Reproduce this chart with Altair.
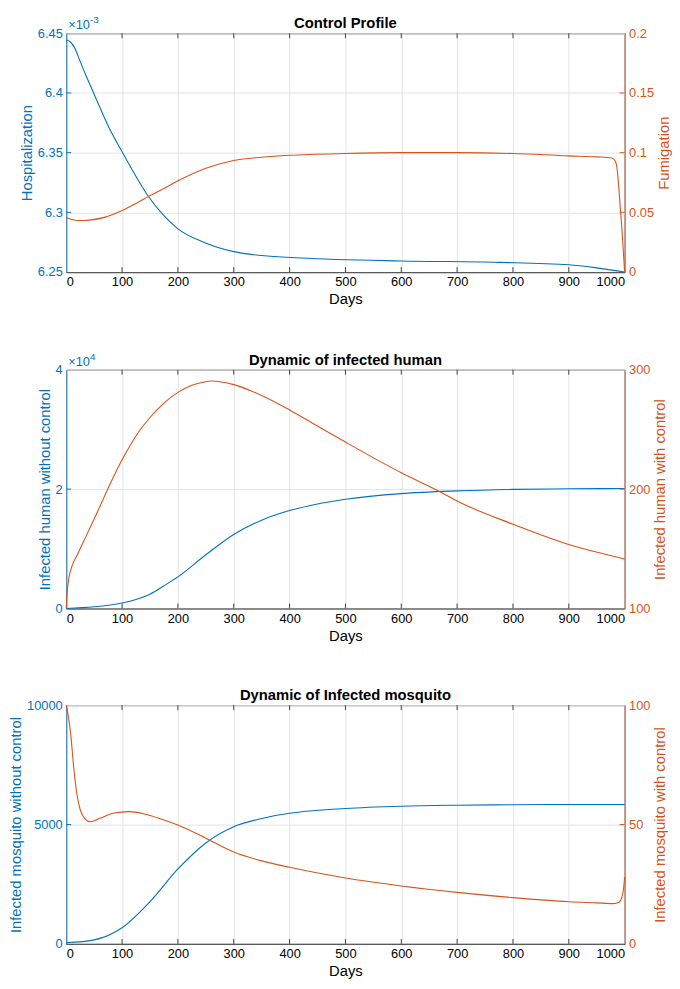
import altair as alt
import pandas as pd

BLUE = "#0072BD"
ORANGE = "#D95319"
DARK = "#262626"
FONT = "Liberation Sans"
W, H = 566, 242
TICK = 5

X_TICKS = [0, 100, 200, 300, 400, 500, 600, 700, 800, 900, 1000]

# ---------------- Panel 1: Control Profile ----------------
HOSP_DAYS = [0, 8, 16, 24, 35, 50, 79, 100, 122, 145, 175, 200, 245, 300, 350, 420, 600, 775, 900, 950, 1000]
HOSP = [0.0064443, 0.0064425, 0.0064370, 0.0064275, 0.0064150, 0.0063990, 0.0063687, 0.0063508,
        0.0063325, 0.0063148, 0.0062972, 0.0062862, 0.0062752, 0.0062671, 0.0062638, 0.0062618,
        0.0062593, 0.0062581, 0.0062561, 0.0062535, 0.0062500]
FUM_DAYS = [0, 10, 20, 30, 45, 70, 100, 125, 150, 175, 200, 250, 300, 350, 400, 500, 600, 700, 800,
            900, 950, 977, 983, 986, 989, 992, 995, 998, 1000]
FUM = [0.0458, 0.0441, 0.0432, 0.0432, 0.0437, 0.0460, 0.0515, 0.0575, 0.0640, 0.0700, 0.0764, 0.0870,
       0.0935, 0.0962, 0.0978, 0.0993, 0.1000, 0.1000, 0.0993, 0.0973, 0.0965, 0.0955, 0.0932, 0.0880,
       0.0740, 0.0550, 0.0370, 0.0150, 0.0]
HOSP_TICKS = [0.00625, 0.0063, 0.00635, 0.0064, 0.00645]
FUM_TICKS = [0, 0.05, 0.1, 0.15, 0.2]

# ---------------- Panel 2: infected human ----------------
IH_DAYS = [0, 50, 100, 125, 150, 175, 200, 250, 300, 350, 400, 450, 500, 600, 700, 800, 900, 1000]
IH_NO = [0, 280, 920, 1500, 2400, 3800, 5300, 9000, 12400, 14800, 16400, 17500, 18300, 19250, 19700,
         19950, 20050, 20100]
IHC_DAYS = [0, 2, 5, 10, 20, 30, 40, 55, 70, 85, 100, 115, 130, 150, 175, 200, 225, 250, 260, 300, 350,
            400, 450, 500, 600, 670, 700, 800, 900, 1000]
IH_CTRL = [100, 115, 126, 135, 145, 155, 165, 180, 195.5, 210.5, 224.5, 237, 248, 260, 272, 281, 287,
           290, 290.5, 287.5, 278.4, 266.3, 252.8, 239.4, 213.7, 197.6, 190, 170.6, 153.6, 141.5]
IH_TICKS = [0, 20000, 40000]
IHC_TICKS = [100, 200, 300]

# ---------------- Panel 3: infected mosquito ----------------
MQ_DAYS = [0, 50, 100, 150, 200, 250, 300, 350, 400, 500, 600, 700, 800, 900, 1000]
MQ_NO = [50, 170, 680, 1770, 3140, 4230, 4910, 5250, 5470, 5675, 5770, 5810, 5830, 5840, 5840]
MQC_DAYS = [0, 4, 8, 13, 19, 25, 34, 43, 60, 84, 113, 142, 170, 200, 250, 300, 350, 400, 500, 600,
            700, 800, 900, 950, 980, 990, 995, 998, 1000]
MQ_CTRL = [100, 95, 88, 75, 63, 56.3, 52.3, 51.2, 52.6, 54.7, 55.4, 54.3, 52.3, 49.8, 44.3, 38.5, 34.8,
           32.1, 27.6, 24.3, 21.6, 19.4, 17.7, 17.2, 16.9, 17.5, 19.5, 23, 28]
MQ_TICKS = [0, 5000, 10000]
MQC_TICKS = [0, 50, 100]


def build_panel(title, ldays, lvals, rdays, rvals, ldom, lticks, ltitle, rdom, rticks, rtitle,
                lexpr=None, exp_base=None, exp_pow=None):
    xenc = alt.X("day:Q", scale=alt.Scale(domain=[0, 1000], nice=False, zero=False),
                 axis=alt.Axis(values=X_TICKS, title="Days", grid=True, labelColor="black",
                               titleColor="black", domainColor="#5a5a5a", domainWidth=1.2, format="d"))
    lax = dict(orient="left", values=lticks, title=ltitle, grid=True, labelColor=BLUE,
               titleColor=BLUE, domainColor=BLUE, domainOpacity=0.75)
    if lexpr:
        lax["labelExpr"] = lexpr
    else:
        lax["format"] = ".6~g"
    ly = alt.Y("v:Q", scale=alt.Scale(domain=ldom, nice=False, zero=False), axis=alt.Axis(**lax))
    ry = alt.Y("v:Q", scale=alt.Scale(domain=rdom, nice=False, zero=False),
               axis=alt.Axis(orient="right", values=rticks, title=rtitle, grid=False, format=".6~g",
                             labelColor=ORANGE, titleColor=ORANGE, domainColor=ORANGE,
                             domainOpacity=0.75, titleAngle=270, titleBaseline="top"))

    ldf = pd.DataFrame({"day": ldays, "v": lvals})
    rdf = pd.DataFrame({"day": rdays, "v": rvals})

    lline = alt.Chart(ldf).mark_line(color=BLUE, strokeWidth=1.1, interpolate="monotone").encode(x=xenc, y=ly)
    lt = alt.Chart(pd.DataFrame({"v": lticks[1:-1]})).mark_rule(color=BLUE, strokeWidth=1).encode(
        y=ly, x=alt.value(0), x2=alt.value(TICK))
    left = alt.layer(lline, lt)

    rline = alt.Chart(rdf).mark_line(color=ORANGE, strokeWidth=1.1, interpolate="monotone").encode(x=xenc, y=ry)
    rt = alt.Chart(pd.DataFrame({"v": rticks[1:-1]})).mark_rule(color=ORANGE, strokeWidth=1).encode(
        y=ry, x=alt.value(W - TICK), x2=alt.value(W))
    right = alt.layer(rline, rt)

    xt_df = pd.DataFrame({"day": X_TICKS[1:-1]})
    xt_top = alt.Chart(xt_df).mark_rule(color="#404040", strokeWidth=1).encode(
        x=xenc, y=alt.value(0), y2=alt.value(TICK))
    xt_bot = alt.Chart(xt_df).mark_rule(color="#404040", strokeWidth=1).encode(
        x=xenc, y=alt.value(H - TICK), y2=alt.value(H))

    one = pd.DataFrame({"k": [0]})
    ttl = alt.Chart(one).mark_text(align="center", baseline="alphabetic", fontSize=15, fontWeight="bold",
                                   color="black", font=FONT).encode(
        x=alt.value(W / 2), y=alt.value(-5), text=alt.value(title))

    layers = [xt_top, xt_bot, left, right, ttl]
    if exp_base:
        t1 = alt.Chart(one).mark_text(align="left", baseline="alphabetic", fontSize=13, color=BLUE,
                                      font=FONT).encode(x=alt.value(2), y=alt.value(-4),
                                                        text=alt.value(exp_base))
        t2 = alt.Chart(one).mark_text(align="left", baseline="alphabetic", fontSize=10, color=BLUE,
                                      font=FONT).encode(x=alt.value(24), y=alt.value(-10),
                                                        text=alt.value(exp_pow))
        layers += [t1, t2]

    return alt.layer(*layers).resolve_scale(y="independent").properties(width=W, height=H)


p1 = build_panel("Control Profile", HOSP_DAYS, HOSP, FUM_DAYS, FUM, [0.00625, 0.00645], HOSP_TICKS,
                 "Hospitalization", [0, 0.2], FUM_TICKS, "Fumigation",
                 lexpr="format(datum.value * 1000, '.3~g')", exp_base="×10", exp_pow="-3")
p2 = build_panel("Dynamic of infected human", IH_DAYS, IH_NO, IHC_DAYS, IH_CTRL, [0, 40000], IH_TICKS,
                 "Infected human without control", [100, 300], IHC_TICKS, "Infected human with control",
                 lexpr="format(datum.value / 10000, '~g')", exp_base="×10", exp_pow="4")
p3 = build_panel("Dynamic of Infected mosquito", MQ_DAYS, MQ_NO, MQC_DAYS, MQ_CTRL, [0, 10000], MQ_TICKS,
                 "Infected mosquito without control", [0, 100], MQC_TICKS, "Infected mosquito with control")

chart = alt.vconcat(p1, p2, p3, spacing=44, padding={"left": 0, "top": 0, "right": 0, "bottom": 0}).configure(
    font=FONT
).configure_view(
    stroke="#262626", strokeWidth=1
).configure_axis(
    labelFont=FONT, titleFont=FONT, labelFontSize=13, titleFontSize=15, titleFontWeight="normal",
    gridColor="#e3e3e3", gridWidth=1, ticks=False, labelPadding=4, titlePadding=3
)

chart.save("out.html", embed_options={"renderer": "svg", "actions": False})
